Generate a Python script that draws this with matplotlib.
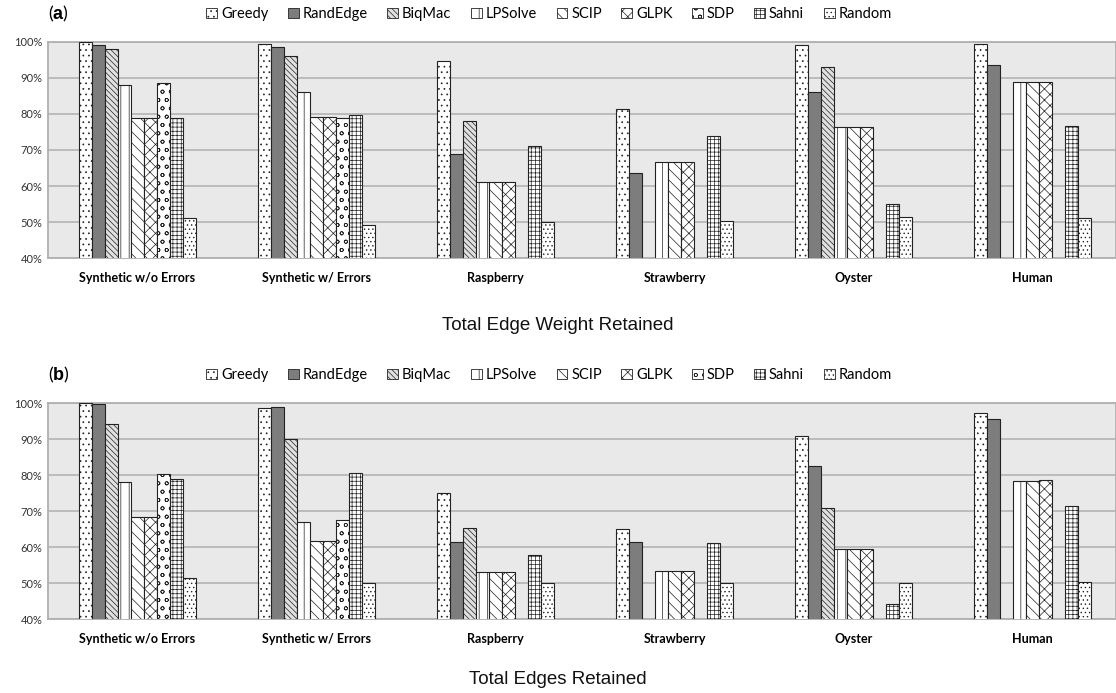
import numpy as np
import matplotlib
matplotlib.use("Agg")
import matplotlib.pyplot as plt
from matplotlib.patches import Patch

plt.rcParams["font.family"] = ["Lato", "DejaVu Sans"]
plt.rcParams["hatch.linewidth"] = 0.5
plt.rcParams["hatch.color"] = "#333333"
plt.rcParams["mathtext.fontset"] = "custom"
plt.rcParams["mathtext.rm"] = "Liberation Sans"
plt.rcParams["mathtext.bf"] = "Liberation Sans:bold"

datasets = ["Synthetic w/o Errors", "Synthetic w/ Errors", "Raspberry",
            "Strawberry", "Oyster", "Human"]
methods = ["Greedy", "RandEdge", "BiqMac", "LPSolve", "SCIP", "GLPK",
           "SDP", "Sahni", "Random"]
nan = np.nan

# (a) total edge weight retained, % per method for each dataset
weight_greedy = [100.0, 99.5, 94.7, 81.5, 99.3, 99.5]
weight_randedge = [99.3, 98.7, 69.0, 63.7, 86.0, 93.7]
weight_biqmac = [98.0, 96.2, 78.0, nan, 93.0, nan]
weight_lpsolve = [88.0, 86.0, 61.0, 66.7, 76.3, 89.0]
weight_scip = [79.0, 79.3, 61.0, 66.7, 76.3, 89.0]
weight_glpk = [79.0, 79.3, 61.0, 66.7, 76.3, 89.0]
weight_sdp = [88.5, 78.8, nan, nan, nan, nan]
weight_sahni = [78.8, 79.8, 71.0, 73.8, 55.0, 76.6]
weight_random = [51.2, 49.3, 50.0, 50.3, 51.5, 51.2]

# (b) total edges retained
edges_greedy = [100.0, 98.6, 75.0, 65.0, 90.7, 97.3]
edges_randedge = [99.7, 98.9, 61.5, 61.5, 82.4, 95.5]
edges_biqmac = [94.3, 90.0, 65.2, nan, 70.7, nan]
edges_lpsolve = [78.1, 67.0, 53.0, 53.2, 59.5, 78.4]
edges_scip = [68.2, 61.8, 53.0, 53.2, 59.5, 78.4]
edges_glpk = [68.2, 61.8, 53.0, 53.2, 59.5, 78.7]
edges_sdp = [80.3, 67.6, nan, nan, nan, nan]
edges_sahni = [78.8, 80.6, 57.8, 61.2, 44.2, 71.3]
edges_random = [51.5, 50.0, 50.0, 50.0, 50.0, 50.3]

weight_series = [weight_greedy, weight_randedge, weight_biqmac, weight_lpsolve,
                 weight_scip, weight_glpk, weight_sdp, weight_sahni, weight_random]
edges_series = [edges_greedy, edges_randedge, edges_biqmac, edges_lpsolve,
                edges_scip, edges_glpk, edges_sdp, edges_sahni, edges_random]

# fill colour and hatch for each method
styles = {
    "Greedy": ("white", "..."),
    "RandEdge": ("#7d7d7d", None),
    "BiqMac": ("#e0e0e0", "\\\\\\\\\\\\"),
    "LPSolve": ("white", "||"),
    "SCIP": ("white", "\\\\\\"),
    "GLPK": ("white", "xxx"),
    "SDP": ("white", "oo"),
    "Sahni": ("white", "++++"),
    "Random": ("white", "...."),
}

fig = plt.figure(figsize=(11.16, 6.93), dpi=100)
W, H = 1116, 693


def draw_panel(top_px, bottom_px, series, letter, title, title_y):
    ax = fig.add_axes([48 / W, 1 - bottom_px / H, 1 - 48 / W,
                       (bottom_px - top_px) / H])
    ax.set_facecolor("#e9e9e9")
    x = np.arange(len(datasets))
    width = 0.0726
    for i, (name, vals) in enumerate(zip(methods, series)):
        fc, hatch = styles[name]
        ax.bar(x + (i - 4) * width, vals, width, color=fc, hatch=hatch,
               edgecolor="#222222", linewidth=0.8, zorder=3)
    ax.set_ylim(40, 100)
    ax.set_xlim(-0.5, 5.466)
    ax.set_yticks(np.arange(40, 101, 10))
    ax.set_yticklabels([f"{v}%" for v in range(40, 101, 10)], fontsize=8,
                       color="#333333")
    ax.set_xticks(x)
    ax.set_xticklabels(datasets, fontsize=9, fontweight="bold")
    ax.tick_params(length=0, pad=10, axis="x")
    ax.tick_params(length=0, pad=4, axis="y")
    ax.yaxis.grid(True, color="#b8b8b8", linewidth=1.3, zorder=0)
    ax.set_axisbelow(True)
    for side in ["top", "bottom", "left", "right"]:
        ax.spines[side].set_color("#b0b0b0")
        ax.spines[side].set_linewidth(1.3)

    handles = [Patch(facecolor=styles[m][0], hatch=styles[m][1],
                     edgecolor="#222222", linewidth=0.6) for m in methods]
    fig.legend(handles, methods, loc="center", ncol=9, frameon=False,
               bbox_to_anchor=(549 / W, 1 - (top_px - 28) / H),
               fontsize=10.5, handlelength=0.75, handleheight=0.75,
               handletextpad=0.25, columnspacing=1.35)
    fig.text(48 / W, 1 - (top_px - 28) / H, r"($\mathbf{%s}$)" % letter,
             fontsize=13, va="center", ha="left")
    fig.text(0.5, 1 - title_y / H, title, fontsize=13.5, ha="center",
             va="center", family="Liberation Sans", color="#111111")


draw_panel(42, 258, weight_series, "a", "Total Edge Weight Retained", 325)
draw_panel(403, 619, edges_series, "b", "Total Edges Retained", 680)

fig.savefig("out.png", dpi=100)
